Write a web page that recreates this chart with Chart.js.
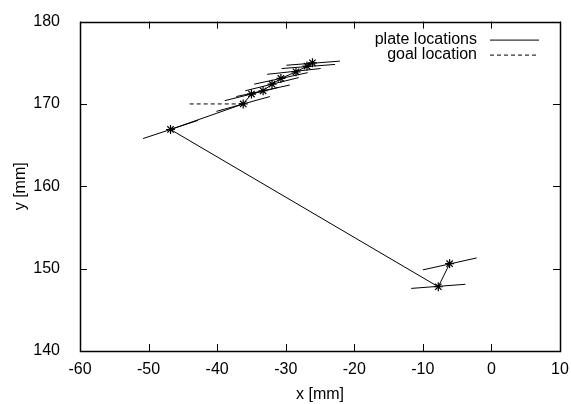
<!DOCTYPE html>
<html>
<head>
<meta charset="utf-8">
<script src="https://cdn.jsdelivr.net/npm/chart.js@4"></script>
<style>
  html, body { margin: 0; padding: 0; background: #fff; }
  #wrap { width: 571px; height: 404px; }
</style>
</head>
<body>
<div id="wrap"><canvas id="chart" width="571" height="404"></canvas></div>
<script>
// plate positions (path order), mm
const plateX = [-6.1, -7.75, -46.8, -36.2, -35.0, -33.3, -32.0, -30.7, -28.5, -26.9, -26.1];
const plateY = [150.6, 147.8, 166.9, 170.0, 171.2, 171.6, 172.4, 173.1, 173.9, 174.6, 175.0];

// orientation segment through each plate (start / end)
const segX0 = [-10.0, -11.7, -50.8, -40.1, -38.9, -37.2, -35.9, -34.6, -32.7, -30.6, -29.9];
const segY0 = [149.85, 147.6, 165.8, 169.1, 170.4, 170.9, 171.6, 172.4, 173.6, 174.3, 174.7];
const segX1 = [-2.15, -3.8, -42.8, -32.3, -31.1, -29.4, -28.1, -26.8, -24.9, -22.8, -22.1];
const segY1 = [151.3, 148.1, 168.0, 170.9, 172.0, 172.3, 173.2, 173.8, 174.3, 174.8, 175.2];

// goal location segment
const goalX = [-44, -36.2];
const goalY = [170, 170];

const xTicks = [-60, -50, -40, -30, -20, -10, 0, 10];
const yTicks = [140, 150, 160, 170, 180];

const FONT = "'Liberation Sans', Arial, sans-serif";

const platePts = plateX.map((x, i) => ({ x: x, y: plateY[i] }));
const segPts = [];
segX0.forEach((x, i) => {
  segPts.push({ x: x, y: segY0[i] });
  segPts.push({ x: segX1[i], y: segY1[i] });
  segPts.push({ x: NaN, y: null });
});
const goalPts = goalX.map((x, i) => ({ x: x, y: goalY[i] }));

// frame, inside ticks on all sides, gnuplot style key
const gnuFrame = {
  id: 'gnuFrame',
  afterDatasetsDraw(chart) {
    const ctx = chart.ctx;
    const a = chart.chartArea;
    const xs = chart.scales.x, ys = chart.scales.y;
    const t = 7;
    ctx.save();
    ctx.strokeStyle = '#000';
    ctx.lineWidth = 1;
    ctx.beginPath();
    xTicks.forEach(v => {
      const px = Math.round(xs.getPixelForValue(v)) + 0.5;
      ctx.moveTo(px, a.bottom); ctx.lineTo(px, a.bottom - t);
      ctx.moveTo(px, a.top); ctx.lineTo(px, a.top + t);
    });
    yTicks.forEach(v => {
      const py = Math.round(ys.getPixelForValue(v)) + 0.5;
      ctx.moveTo(a.left, py); ctx.lineTo(a.left + t, py);
      ctx.moveTo(a.right, py); ctx.lineTo(a.right - t, py);
    });
    ctx.stroke();
    ctx.lineWidth = 1.5;
    ctx.strokeRect(Math.round(a.left) + 0.5, Math.round(a.top) + 0.5,
      Math.round(a.right - a.left), Math.round(a.bottom - a.top));

    // key
    ctx.font = '16px ' + FONT;
    ctx.fillStyle = '#000';
    ctx.textAlign = 'right';
    ctx.textBaseline = 'middle';
    ctx.lineWidth = 1;
    const keys = [
      { label: chart.data.datasets[0].label, dash: [] },
      { label: chart.data.datasets[2].label, dash: [4, 3] }
    ];
    keys.forEach((k, i) => {
      const y = a.top + 18 + i * 15;
      ctx.fillText(k.label, a.right - 83, y);
      ctx.setLineDash(k.dash);
      ctx.beginPath();
      ctx.moveTo(a.right - 70, y + 0.5);
      ctx.lineTo(a.right - 21, y + 0.5);
      ctx.stroke();
    });
    ctx.restore();
  }
};

new Chart(document.getElementById('chart'), {
  type: 'scatter',
  data: {
    datasets: [
      {
        label: 'plate locations',
        data: platePts,
        showLine: true,
        borderColor: '#000',
        backgroundColor: '#000',
        borderWidth: 1,
        pointStyle: 'star',
        pointRadius: 4.5,
        pointBorderWidth: 1.2,
        pointBorderColor: '#000'
      },
      {
        label: 'orientation',
        data: segPts,
        showLine: true,
        spanGaps: false,
        borderColor: '#000',
        borderWidth: 1,
        pointRadius: 0
      },
      {
        label: 'goal location',
        data: goalPts,
        showLine: true,
        borderColor: '#000',
        borderWidth: 1,
        borderDash: [4, 3],
        pointRadius: 0
      }
    ]
  },
  options: {
    responsive: false,
    animation: false,
    layout: { padding: { top: 20, right: 11, bottom: 0, left: 0 } },
    plugins: { legend: { display: false }, tooltip: { enabled: false } },
    scales: {
      x: {
        type: 'linear',
        min: -60, max: 10,
        afterFit(s) { s.height = 53; },
        afterBuildTicks(s) { s.ticks = xTicks.map(v => ({ value: v })); },
        grid: { display: true, drawOnChartArea: false, drawTicks: true, tickLength: 7, tickColor: 'rgba(0,0,0,0)' },
        border: { display: false },
        ticks: { color: '#000', padding: 2, font: { family: FONT, size: 16 } },
        title: { display: true, text: 'x [mm]', color: '#000', padding: { top: 0, bottom: 0 }, font: { family: FONT, size: 16 } }
      },
      y: {
        type: 'linear',
        min: 140, max: 180,
        afterFit(s) { s.width = 80; },
        afterBuildTicks(s) { s.ticks = yTicks.map(v => ({ value: v })); },
        grid: { display: false },
        border: { display: false },
        ticks: { color: '#000', padding: 12, font: { family: FONT, size: 16 } },
        title: { display: true, text: 'y [mm]', color: '#000', padding: { top: 11, bottom: 0 }, font: { family: FONT, size: 16 } }
      }
    }
  },
  plugins: [gnuFrame]
});
</script>
</body>
</html>
